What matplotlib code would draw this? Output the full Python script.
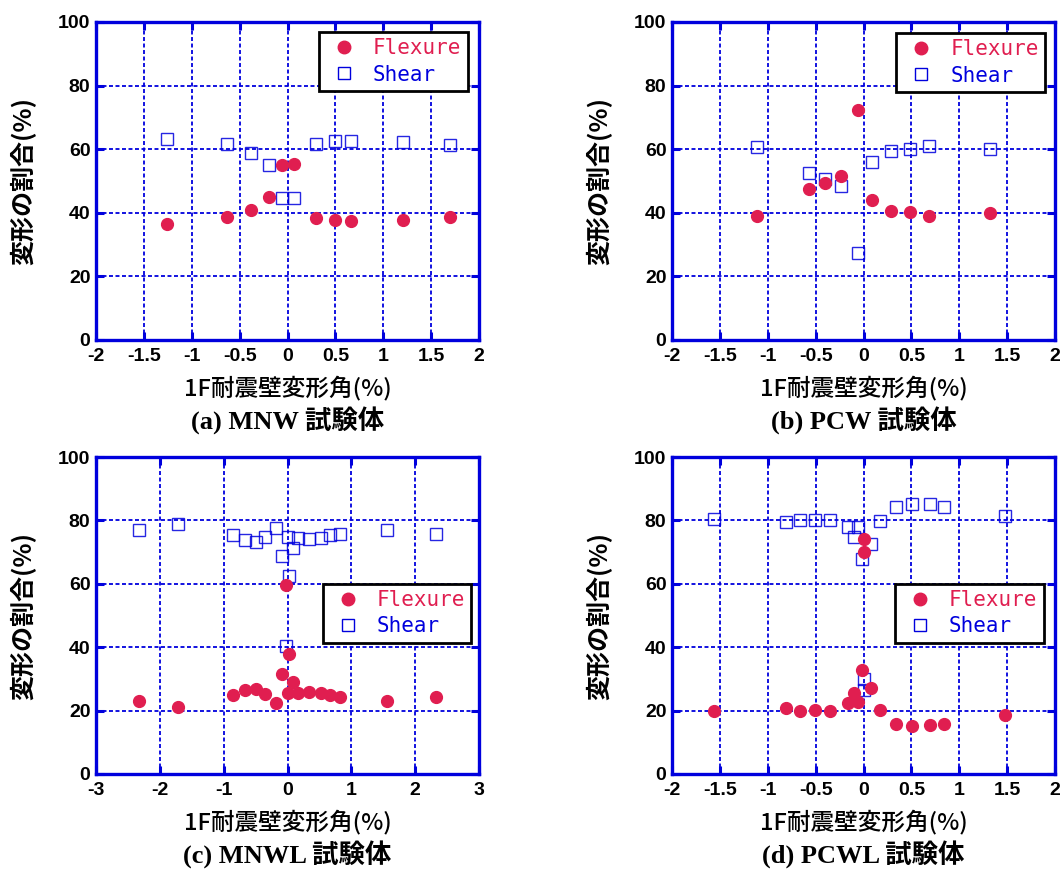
import matplotlib
matplotlib.use("Agg")
import matplotlib.pyplot as plt
from matplotlib.lines import Line2D

plt.rcParams['axes.unicode_minus'] = False

RED = '#E01E50'
BLUE = '#0000DD'

# (a) MNW
a_x = [-1.26, -0.63, -0.38, -0.19, -0.06, 0.07, 0.30, 0.50, 0.66, 1.21, 1.70]
a_flex = [36.6, 38.6, 40.9, 45.0, 55.1, 55.2, 38.5, 37.6, 37.5, 37.8, 38.8]
a_shear = [63.3, 61.5, 58.9, 55.1, 44.7, 44.5, 61.5, 62.5, 62.5, 62.2, 61.3]

# (b) PCW
b_x = [-1.11, -0.57, -0.40, -0.23, -0.06, 0.09, 0.29, 0.49, 0.68, 1.32]
b_flex = [39.0, 47.5, 49.3, 51.7, 72.4, 43.9, 40.5, 40.1, 38.9, 39.8]
b_shear = [60.6, 52.4, 50.6, 48.4, 27.5, 56.0, 59.3, 60.0, 61.0, 60.1]

# (c) MNWL
c_x = [-2.33, -1.71, -0.86, -0.67, -0.50, -0.35, -0.18, -0.08, -0.02, 0.03,
       0.08, 0.0, 0.17, 0.34, 0.52, 0.66, 0.83, 1.56, 2.33]
c_flex = [22.9, 21.2, 24.9, 26.4, 26.8, 25.2, 22.5, 31.5, 59.7, 37.9,
          29.0, 25.4, 25.4, 26.0, 25.4, 24.9, 24.4, 23.1, 24.4]
c_shear = [77.0, 79.0, 75.3, 73.9, 73.2, 74.8, 77.5, 68.7, 40.4, 62.4,
           71.4, 74.8, 74.5, 74.0, 74.5, 75.3, 75.7, 76.9, 75.6]

# (d) PCWL
d_x = [-1.56, -0.81, -0.66, -0.51, -0.35, -0.16, -0.10, -0.06, -0.02, 0.01,
       0.0, 0.08, 0.17, 0.34, 0.51, 0.69, 0.84, 1.48]
d_flex = [19.8, 20.7, 19.8, 20.1, 20.0, 22.4, 25.6, 22.6, 32.8, 70.0,
          74.0, 27.0, 20.2, 15.8, 15.0, 15.3, 15.8, 18.7]
d_shear = [80.5, 79.4, 80.1, 80.0, 80.0, 77.8, 74.7, 77.8, 67.9, 30.1,
           26.5, 72.7, 79.8, 84.1, 85.2, 85.2, 84.2, 81.4]

ticks_2 = [-2, -1.5, -1, -0.5, 0, 0.5, 1, 1.5, 2]
ticks_3 = [-3, -2, -1, 0, 1, 2, 3]
yticks = [0, 20, 40, 60, 80, 100]

panels = [
    ("(a) MNW 試験体", a_x, a_flex, a_shear, (-2, 2), ticks_2, (0.97, 0.968)),
    ("(b) PCW 試験体", b_x, b_flex, b_shear, (-2, 2), ticks_2, (0.974, 0.965)),
    ("(c) MNWL 試験体", c_x, c_flex, c_shear, (-3, 3), ticks_3, (0.98, 0.60)),
    ("(d) PCWL 試験体", d_x, d_flex, d_shear, (-2, 2), ticks_2, (0.97, 0.60)),
]

W, H = 1064, 872
fig = plt.figure(figsize=(W / 100, H / 100), dpi=100)

# axes boxes in pixels: left, top, right, bottom
boxes = [(96, 22, 479, 340), (672, 22, 1055, 340), (96, 457, 479, 774), (672, 457, 1055, 774)]

cjk = ['Noto Sans CJK JP', 'DejaVu Sans']
tickfont = {'family': 'Liberation Sans', 'weight': 'bold', 'size': 14}

for (title, x, flex, shear, xlim, xticks, leg_anchor), (l, t, r, b) in zip(panels, boxes):
    ax = fig.add_axes([l / W, 1 - b / H, (r - l) / W, (b - t) / H])
    ax.set_xlim(*xlim)
    ax.set_ylim(0, 100)
    ax.set_xticks(xticks)
    ax.set_yticks(yticks)
    ax.set_xticklabels([f"{v:g}" for v in xticks], fontdict=tickfont)
    ax.set_yticklabels([str(v) for v in yticks], fontdict=tickfont)
    ax.grid(True, color=BLUE, linestyle=(0, (2.2, 1.4)), linewidth=1.3)
    ax.set_axisbelow(True)
    for sp in ax.spines.values():
        sp.set_color(BLUE)
        sp.set_linewidth(2.4)
    ax.tick_params(direction='in', length=6, width=2.2, color=BLUE,
                   top=True, right=True)
    ax.tick_params(axis='x', pad=6)
    ax.tick_params(axis='y', pad=4)

    ax.plot(x, shear, linestyle='none', marker='s', markersize=9,
            markerfacecolor='none', markeredgecolor=BLUE, markeredgewidth=1.0, alpha=0.85)
    ax.plot(x, flex, linestyle='none', marker='o', markersize=8.5,
            markerfacecolor=RED, markeredgecolor=RED)

    ax.set_xlabel("1F耐震壁変形角(%)", family=cjk, fontsize=17, fontweight='medium')
    ax.xaxis.label.set_va('center')
    ax.xaxis.set_label_coords(0.5, -48 / (b - t))
    ax.set_ylabel("変形の割合(%)", family=cjk, fontsize=18, fontweight='bold')
    ax.yaxis.label.set_va('center')
    ax.yaxis.set_label_coords(-73 / (r - l), 0.5)

    handles = [
        Line2D([], [], linestyle='none', marker='o', markersize=9, markerfacecolor=RED, markeredgecolor=RED),
        Line2D([], [], linestyle='none', marker='s', markersize=8, markerfacecolor='none',
               markeredgecolor=BLUE, markeredgewidth=1.0),
    ]
    leg = ax.legend(handles, ["Flexure", "Shear"], loc='upper right', bbox_to_anchor=leg_anchor,
                    prop={'family': 'DejaVu Sans Mono', 'size': 15}, frameon=True, fancybox=False,
                    edgecolor='black', framealpha=1, borderpad=0.3, handletextpad=0.5,
                    labelspacing=0.3, handlelength=1.8, borderaxespad=0)
    leg.get_frame().set_linewidth(2.0)
    for txt, c in zip(leg.get_texts(), [RED, BLUE]):
        txt.set_color(c)

    cx = (l + r) / 2 / W
    cy = 1 - (b + 81) / H
    fig.text(cx, cy, title, ha='center', va='center', fontsize=19, fontweight='bold',
             family=['Liberation Serif', 'Noto Sans CJK JP'])

fig.savefig("out.png", dpi=100)
